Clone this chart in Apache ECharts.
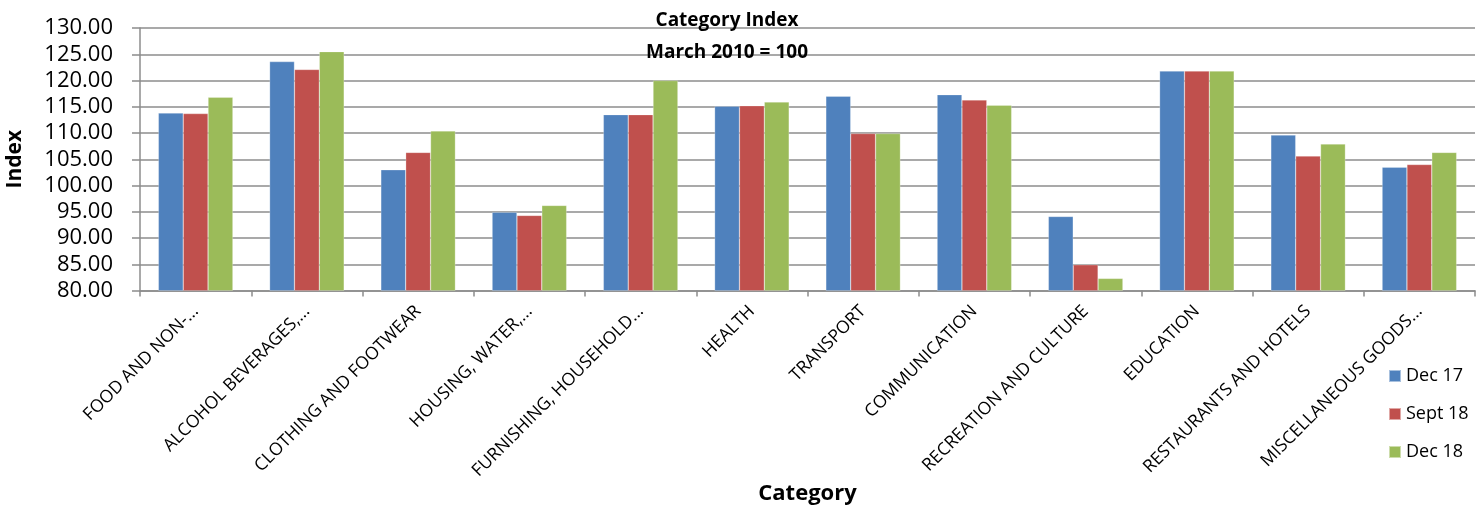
<!DOCTYPE html>
<html>
<head>
  <meta charset="UTF-8">
  <title>Category Index</title>
  <script src="https://cdn.jsdelivr.net/npm/echarts@6/dist/echarts.min.js"></script>
  <style>
    html, body { margin: 0; padding: 0; background: #fff; }
    #main { width: 1483px; height: 506px; }
  </style>
</head>
<body>
<div id="main"></div>
<script>
  // categories (truncated the same way as on the original chart)
  var categories = [
    'FOOD AND NON-...', 'ALCOHOL BEVERAGES,...', 'CLOTHING AND FOOTWEAR',
    'HOUSING, WATER,...', 'FURNISHING, HOUSEHOLD...', 'HEALTH', 'TRANSPORT',
    'COMMUNICATION', 'RECREATION AND CULTURE', 'EDUCATION',
    'RESTAURANTS AND HOTELS', 'MISCELLANEOUS GOODS...'
  ];
  var seriesNames = ['Dec 17', 'Sept 18', 'Dec 18'];
  var dec17  = [113.8, 123.6, 103.0, 94.9, 113.5, 115.1, 117.0, 117.3, 94.1, 121.8, 109.6, 103.5];
  var sept18 = [113.7, 122.1, 106.3, 94.3, 113.5, 115.2, 109.9, 116.3, 84.9, 121.8, 105.6, 104.0];
  var dec18  = [116.8, 125.5, 110.4, 96.2, 120.0, 115.9, 109.9, 115.3, 82.3, 121.8, 107.9, 106.3];

  var colors = ['#4F81BD', '#C0504D', '#9BBB59'];
  var font = 'Open Sans';

  var myChart = echarts.init(document.getElementById('main'));

  function bar(name, data) {
    return {
      name: name,
      type: 'bar',
      data: data,
      barGap: '0%',
      barCategoryGap: '33%',
      itemStyle: { borderColor: 'rgba(255,255,255,0.5)', borderWidth: 0.5 }
    };
  }

  var option = {
    backgroundColor: '#ffffff',
    color: colors,
    textStyle: { fontFamily: font },
    title: {
      text: 'Category Index\nMarch 2010 = 100',
      left: 722,
      top: 0,
      textAlign: 'center',
      textStyle: { fontFamily: font, fontSize: 19, fontWeight: 'bold', color: '#000', lineHeight: 32 }
    },
    legend: {
      orient: 'vertical',
      left: 1383,
      top: 359,
      itemWidth: 12,
      itemHeight: 12,
      itemGap: 14,
      icon: 'rect',
      textStyle: { fontFamily: font, fontSize: 18, color: '#000', lineHeight: 24 },
      data: seriesNames
    },
    grid: { left: 140, right: 8, top: 28, bottom: 215.5, containLabel: false, outerBoundsMode: 'none' },
    xAxis: {
      type: 'category',
      data: categories,
      name: 'Category',
      nameLocation: 'middle',
      nameGap: 192,
      nameMoveOverlap: false,
      nameTextStyle: { fontFamily: font, fontSize: 22, fontWeight: 'bold', color: '#000' },
      axisLine: { lineStyle: { color: '#8c8c8c', width: 1.5 } },
      axisTick: { show: true, length: 6, lineStyle: { color: '#8c8c8c', width: 1.5 } },
      axisLabel: { rotate: 45, fontSize: 17.5, color: '#000', margin: 18, interval: 0 }
    },
    yAxis: {
      type: 'value',
      min: 80,
      max: 130,
      interval: 5,
      name: 'Index',
      nameLocation: 'middle',
      nameGap: 114,
      nameMoveOverlap: false,
      nameTextStyle: { fontFamily: font, fontSize: 21, fontWeight: 'bold', color: '#000' },
      axisLine: { show: true, lineStyle: { color: '#8c8c8c', width: 1.5 } },
      axisTick: { show: true, length: 8, lineStyle: { color: '#8c8c8c', width: 1.5 } },
      axisLabel: {
        fontSize: 22, color: '#000', margin: 27,
        formatter: function (v) { return v.toFixed(2); }
      },
      splitLine: { lineStyle: { color: '#8c8c8c', width: 1.5 } }
    },
    series: [
      bar(seriesNames[0], dec17),
      bar(seriesNames[1], sept18),
      bar(seriesNames[2], dec18)
    ]
  };

  myChart.setOption(option);
</script>
</body>
</html>
